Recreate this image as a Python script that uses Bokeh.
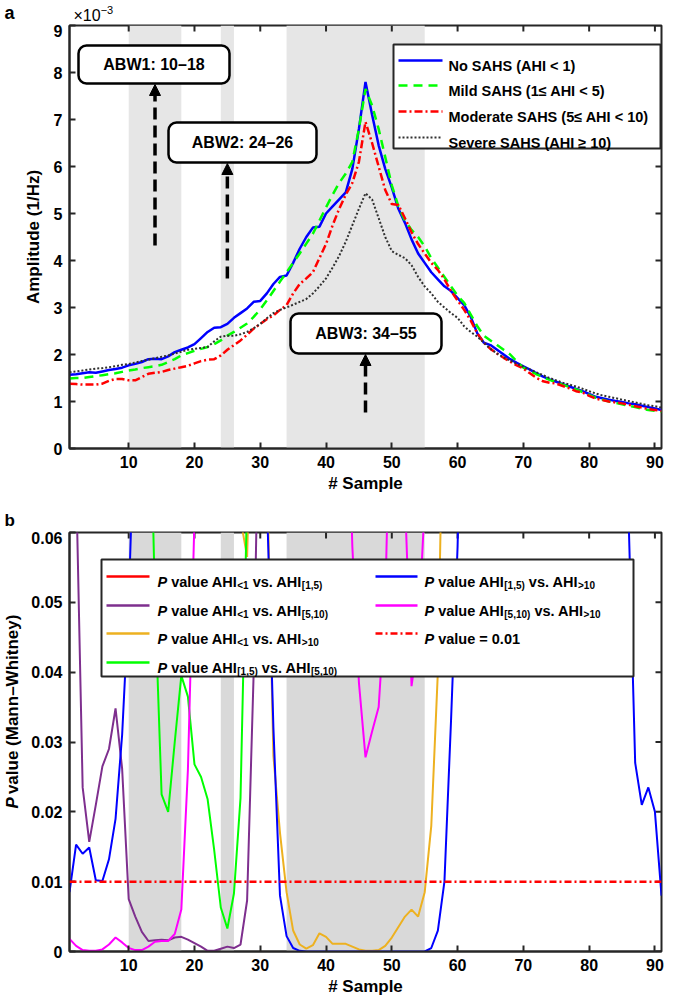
import math
from bokeh.plotting import figure
from bokeh.layouts import column, row
from bokeh.models import Range1d, FixedTicker, Arrow, NormalHead, Span, NumeralTickFormatter
from bokeh.embed import file_html
from bokeh.resources import INLINE
from bokeh.core.properties import value

# ---------------- data ----------------
samples = list(range(1, 92))
x_ticks = [10, 20, 30, 40, 50, 60, 70, 80, 90]
amp_ticks = [0, 1, 2, 3, 4, 5, 6, 7, 8, 9]
p_ticks = [0, 0.01, 0.02, 0.03, 0.04, 0.05, 0.06]

# amplitude (x 1e-3, 1/Hz)
amp_no = [1.57, 1.58, 1.60, 1.62, 1.61, 1.64, 1.67, 1.69, 1.72, 1.77,
          1.80, 1.84, 1.90, 1.91, 1.90, 1.96, 2.05, 2.10, 2.15, 2.22,
          2.35, 2.48, 2.57, 2.58, 2.65, 2.78, 2.88, 2.98, 3.12, 3.14,
          3.30, 3.50, 3.65, 3.68, 3.95, 4.25, 4.50, 4.70, 4.72, 5.00,
          5.15, 5.30, 5.45, 5.95, 6.80, 7.80, 7.10, 6.45, 5.95, 5.55,
          5.10, 4.80, 4.45, 4.15, 3.95, 3.75, 3.60, 3.45, 3.35, 3.20,
          3.05, 2.80, 2.45, 2.25, 2.20, 2.10, 2.00, 1.90, 1.82, 1.75,
          1.68, 1.60, 1.53, 1.47, 1.42, 1.37, 1.32, 1.27, 1.22, 1.16,
          1.10, 1.07, 1.04, 1.01, 0.99, 0.96, 0.94, 0.91, 0.88, 0.85, 0.82]
amp_mild = [1.49, 1.50, 1.50, 1.52, 1.54, 1.56, 1.58, 1.60, 1.63, 1.66,
            1.68, 1.71, 1.73, 1.75, 1.78, 1.84, 1.90, 1.98, 2.03, 2.08,
            2.12, 2.16, 2.22, 2.30, 2.40, 2.48, 2.57, 2.66, 2.80, 2.96,
            3.15, 3.35, 3.55, 3.75, 3.95, 4.15, 4.36, 4.57, 4.85, 5.13,
            5.40, 5.65, 5.85, 6.10, 6.80, 7.65, 7.30, 6.80, 6.20, 5.60,
            5.15, 4.85, 4.65, 4.50, 4.30, 4.05, 3.85, 3.65, 3.45, 3.25,
            3.10, 2.85, 2.60, 2.40, 2.30, 2.20, 2.10, 2.00, 1.85, 1.72,
            1.65, 1.58, 1.52, 1.46, 1.41, 1.36, 1.31, 1.26, 1.20, 1.14,
            1.08, 1.04, 1.00, 0.97, 0.94, 0.91, 0.88, 0.85, 0.82, 0.80, 0.78]
amp_mod = [1.38, 1.37, 1.36, 1.36, 1.36, 1.38, 1.44, 1.48, 1.48, 1.45,
           1.45, 1.52, 1.59, 1.61, 1.63, 1.67, 1.70, 1.73, 1.76, 1.81,
           1.86, 1.89, 1.90, 1.98, 2.10, 2.20, 2.30, 2.42, 2.55, 2.65,
           2.75, 2.83, 2.95, 3.05, 3.30, 3.50, 3.62, 3.75, 4.05, 4.35,
           4.75, 5.10, 5.40, 5.65, 6.10, 6.95, 6.50, 6.00, 5.50, 5.20,
           5.18, 4.90, 4.60, 4.35, 4.15, 3.95, 3.80, 3.60, 3.35, 3.15,
           2.95, 2.72, 2.45, 2.25, 2.12, 2.02, 1.93, 1.85, 1.77, 1.70,
           1.60, 1.50, 1.43, 1.40, 1.38, 1.33, 1.28, 1.22, 1.19, 1.12,
           1.06, 1.03, 1.00, 0.98, 0.96, 0.93, 0.90, 0.87, 0.84, 0.82, 0.80]
amp_sev = [1.62, 1.64, 1.66, 1.68, 1.70, 1.71, 1.73, 1.75, 1.78, 1.80,
           1.83, 1.86, 1.89, 1.92, 1.95, 1.98, 2.02, 2.06, 2.10, 2.12,
           2.14, 2.16, 2.28, 2.38, 2.40, 2.40, 2.43, 2.48, 2.56, 2.65,
           2.77, 2.88, 2.95, 3.00, 3.06, 3.12, 3.18, 3.30, 3.45, 3.62,
           3.85, 4.10, 4.40, 4.75, 5.10, 5.43, 5.30, 4.90, 4.50, 4.20,
           4.12, 4.05, 3.90, 3.65, 3.45, 3.30, 3.12, 3.00, 2.88, 2.78,
           2.60, 2.48, 2.38, 2.25, 2.12, 2.02, 1.94, 1.87, 1.80, 1.74,
           1.68, 1.62, 1.56, 1.50, 1.45, 1.40, 1.36, 1.32, 1.27, 1.22,
           1.17, 1.13, 1.10, 1.07, 1.04, 1.01, 0.98, 0.95, 0.92, 0.90, 0.87]

# Mann-Whitney P values
p_lt1_vs_1_5 = [0.42, 0.45, 0.48, 0.50, 0.47, 0.44, 0.40, 0.36, 0.33, 0.30,
                0.28, 0.27, 0.26, 0.27, 0.29, 0.31, 0.34, 0.37, 0.40, 0.43,
                0.46, 0.49, 0.52, 0.55, 0.58, 0.60, 0.62, 0.63, 0.62, 0.60,
                0.57, 0.54, 0.50, 0.47, 0.44, 0.41, 0.38, 0.36, 0.34, 0.33,
                0.32, 0.31, 0.30, 0.30, 0.31, 0.32, 0.33, 0.35, 0.37, 0.39,
                0.41, 0.43, 0.45, 0.47, 0.49, 0.51, 0.53, 0.55, 0.57, 0.59,
                0.61, 0.63, 0.65, 0.66, 0.67, 0.68, 0.68, 0.67, 0.66, 0.65,
                0.63, 0.61, 0.59, 0.57, 0.55, 0.53, 0.51, 0.49, 0.47, 0.45,
                0.43, 0.41, 0.39, 0.37, 0.35, 0.33, 0.31, 0.29, 0.27, 0.25, 0.23]
p_lt1_vs_5_10 = [0.100, 0.068, 0.0235, 0.0157, 0.0210, 0.0265, 0.0290, 0.0348, 0.0262, 0.0075,
                 0.0050, 0.0028, 0.0015, 0.0016, 0.0017, 0.0016, 0.0020, 0.0021, 0.0017, 0.0012,
                 0.0007, 0.0001, 0.0001, 0.0004, 0.0007, 0.0005, 0.0010, 0.0073, 0.0400, 0.0900,
                 0.15, 0.21, 0.26, 0.30, 0.33, 0.36, 0.38, 0.40, 0.41, 0.42,
                 0.43, 0.44, 0.45, 0.46, 0.46, 0.47, 0.47, 0.48, 0.48, 0.49,
                 0.49, 0.50, 0.50, 0.51, 0.51, 0.52, 0.52, 0.53, 0.53, 0.54,
                 0.54, 0.55, 0.55, 0.56, 0.56, 0.57, 0.57, 0.58, 0.58, 0.59,
                 0.59, 0.60, 0.60, 0.61, 0.61, 0.62, 0.62, 0.63, 0.63, 0.64,
                 0.64, 0.65, 0.65, 0.66, 0.66, 0.67, 0.67, 0.68, 0.68, 0.69, 0.69]
p_lt1_vs_gt10 = [0.55, 0.52, 0.49, 0.46, 0.43, 0.40, 0.37, 0.34, 0.31, 0.29,
                 0.27, 0.25, 0.23, 0.21, 0.20, 0.19, 0.18, 0.17, 0.16, 0.15,
                 0.15, 0.14, 0.14, 0.13, 0.13, 0.120, 0.062, 0.0565, 0.090, 0.110,
                 0.0700, 0.0280, 0.0170, 0.0085, 0.0030, 0.0010, 0.0004, 0.0009, 0.0026, 0.0021,
                 0.0011, 0.0011, 0.0011, 0.0007, 0.0003, 0.0001, 0.0001, 0.0002, 0.0008, 0.0020,
                 0.0035, 0.0050, 0.0060, 0.0050, 0.0085, 0.0180, 0.0400, 0.0900, 0.14, 0.19,
                 0.23, 0.27, 0.30, 0.33, 0.35, 0.37, 0.39, 0.41, 0.43, 0.44,
                 0.45, 0.46, 0.47, 0.48, 0.49, 0.50, 0.51, 0.52, 0.53, 0.54,
                 0.55, 0.56, 0.57, 0.58, 0.59, 0.60, 0.61, 0.62, 0.63, 0.64, 0.65]
p_1_5_vs_5_10 = [0.45, 0.43, 0.41, 0.39, 0.37, 0.35, 0.33, 0.31, 0.28, 0.25,
                 0.21, 0.17, 0.090, 0.0500, 0.0225, 0.0200, 0.0300, 0.0395, 0.0365, 0.0268,
                 0.0250, 0.0218, 0.0145, 0.0063, 0.0033, 0.0083, 0.0220, 0.0650, 0.15, 0.22,
                 0.28, 0.33, 0.37, 0.40, 0.42, 0.44, 0.46, 0.47, 0.48, 0.49,
                 0.50, 0.51, 0.52, 0.53, 0.54, 0.55, 0.56, 0.57, 0.58, 0.59,
                 0.60, 0.61, 0.62, 0.63, 0.64, 0.65, 0.66, 0.67, 0.68, 0.69,
                 0.70, 0.71, 0.72, 0.73, 0.74, 0.75, 0.76, 0.77, 0.78, 0.79,
                 0.80, 0.80, 0.81, 0.81, 0.82, 0.82, 0.83, 0.83, 0.84, 0.84,
                 0.85, 0.85, 0.86, 0.86, 0.87, 0.87, 0.88, 0.88, 0.89, 0.89, 0.90]
p_1_5_vs_gt10 = [0.0085, 0.0153, 0.0140, 0.0149, 0.0102, 0.0101, 0.0132, 0.0190, 0.0310, 0.0500,
                 0.0800, 0.15, 0.22, 0.28, 0.31, 0.33, 0.34, 0.33, 0.31, 0.30,
                 0.29, 0.27, 0.25, 0.23, 0.21, 0.19, 0.17, 0.15, 0.13, 0.100,
                 0.0650, 0.0320, 0.0080, 0.0022, 0.0005, 0.0001, 0.0, 0.0, 0.0, 0.0,
                 0.0, 0.0, 0.0, 0.0, 0.0, 0.0, 0.0, 0.0, 0.0, 0.0,
                 0.0, 0.0, 0.0, 0.0, 0.0, 0.0005, 0.0030, 0.0100, 0.0330, 0.0580,
                 0.100, 0.15, 0.20, 0.25, 0.30, 0.33, 0.35, 0.37, 0.38, 0.39,
                 0.40, 0.40, 0.39, 0.38, 0.36, 0.34, 0.31, 0.28, 0.25, 0.22,
                 0.19, 0.16, 0.13, 0.11, 0.0950, 0.0620, 0.0270, 0.0210, 0.0235, 0.0200, 0.0080]
p_5_10_vs_gt10 = [0.0018, 0.0008, 0.0002, 0.0001, 0.0001, 0.0003, 0.0010, 0.0020, 0.0013, 0.0005,
                  0.0002, 0.0002, 0.0007, 0.0014, 0.0015, 0.0015, 0.0025, 0.0060, 0.0260, 0.0620,
                  0.11, 0.16, 0.20, 0.23, 0.25, 0.26, 0.27, 0.27, 0.26, 0.25,
                  0.24, 0.23, 0.22, 0.21, 0.20, 0.19, 0.18, 0.17, 0.16, 0.15,
                  0.13, 0.11, 0.0900, 0.0580, 0.0385, 0.0278, 0.0315, 0.0350, 0.0500, 0.0900,
                  0.1000, 0.0650, 0.0380, 0.0450, 0.0640, 0.10, 0.14, 0.18, 0.22, 0.25,
                  0.28, 0.30, 0.32, 0.34, 0.36, 0.37, 0.38, 0.39, 0.40, 0.41,
                  0.42, 0.43, 0.44, 0.45, 0.46, 0.47, 0.48, 0.49, 0.50, 0.51,
                  0.52, 0.53, 0.54, 0.55, 0.56, 0.57, 0.58, 0.59, 0.60, 0.61, 0.62]
p_threshold = 0.01

abw_start = [10, 24, 34]
abw_end = [18, 26, 55]
abw_labels = ["ABW1: 10\u201318", "ABW2: 24\u201326", "ABW3: 34\u201355"]
amp_legend = ["No SAHS (AHI < 1)", "Mild SAHS (1\u2264 AHI < 5)",
              "Moderate SAHS (5\u2264 AHI < 10)", "Severe SAHS (AHI \u2265 10)"]
# rich legend labels: (text, kind) with kind P=italic P, n=normal, s=subscript
p_legend = [
    [("P", "P"), (" value AHI", "n"), ("<1", "s"), (" vs. AHI", "n"), ("[1,5)", "s")],
    [("P", "P"), (" value AHI", "n"), ("<1", "s"), (" vs. AHI", "n"), ("[5,10)", "s")],
    [("P", "P"), (" value AHI", "n"), ("<1", "s"), (" vs. AHI", "n"), (">10", "s")],
    [("P", "P"), (" value AHI", "n"), ("[1,5)", "s"), (" vs. AHI", "n"), ("[5,10)", "s")],
    [("P", "P"), (" value AHI", "n"), ("[1,5)", "s"), (" vs. AHI", "n"), (">10", "s")],
    [("P", "P"), (" value AHI", "n"), ("[5,10)", "s"), (" vs. AHI", "n"), (">10", "s")],
    [("P", "P"), (" value = 0.01", "n")],
]
p_ylabel = [("P", "P"), (" value (Mann\u2013Whitney)", "n")]

# ---------------- layout helpers ----------------
FONT = "Liberation Sans"
AX = "#262626"
XS = 592 / 90.0
YA = 423 / 9.0
YB = 419 / 0.06


def gx(px):
    return 1 + (px - 69) / XS


def gya(py):
    return (448 - py) / YA


def gyb(py):
    return (951 - py) / YB


WID = {' ': 278, '!': 333, '#': 556, '(': 333, ')': 333, ',': 278, '-': 333, '.': 278,
       '/': 278, ':': 333, '<': 584, '=': 584, '>': 584, '[': 333, ']': 333,
       '\u2013': 556, '\u2264': 549, '\u2265': 549, '\u00d7': 584, '\u2212': 584,
       'A': 722, 'B': 722, 'H': 722, 'I': 278, 'M': 833, 'P': 667, 'S': 667, 'W': 944,
       'a': 556, 'd': 611, 'e': 556, 'h': 611, 'i': 278, 'l': 278, 'm': 889, 'n': 611,
       'o': 611, 'p': 611, 'r': 389, 's': 556, 't': 333, 'u': 611, 'v': 556, 'y': 556, 'z': 500}
for c in "0123456789":
    WID[c] = 556


def tw(s, size):
    return sum(WID.get(c, 600) for c in s) * size / 1000.0


def put_text(p, x, y, txt, size, style="bold", align="left", baseline="alphabetic", angle=0.0):
    p.text(x=[x], y=[y], text=[txt], text_font=value(FONT), text_font_style=style,
           text_font_size=f"{size}px", text_align=align, text_baseline=baseline,
           angle=angle, text_color="black")


def make_fig(width, height, ymax, yticks, yconv_px, bl, bb):
    p = figure(width=width, height=height, x_range=Range1d(1, 91), y_range=Range1d(0, ymax),
               output_backend="svg", toolbar_location=None, title=None,
               min_border_left=bl, min_border_right=24, min_border_top=1, min_border_bottom=bb)
    p.grid.visible = False
    p.outline_line_color = AX
    p.outline_line_width = 2
    p.border_fill_color = "white"
    p.xaxis.ticker = FixedTicker(ticks=x_ticks)
    p.yaxis.ticker = FixedTicker(ticks=yticks)
    for a in p.axis:
        a.axis_line_color = AX
        a.axis_line_width = 2
        a.major_tick_line_color = AX
        a.major_tick_line_width = 2
        a.major_tick_in = 6
        a.major_tick_out = 0
        a.minor_tick_line_color = None
        a.major_label_text_font = FONT
        a.major_label_text_font_style = "bold"
        a.major_label_text_font_size = "16px"
        a.major_label_text_color = "black"
        a.major_label_standoff = 7
        a.axis_label_text_font = FONT
        a.axis_label_text_font_style = "bold"
        a.axis_label_text_font_size = "17px"
        a.axis_label_text_color = "black"
    # ticks on the top and right edges of the box
    tick_len_y = 6 / yconv_px
    p.segment(x0=x_ticks, y0=[ymax] * len(x_ticks), x1=x_ticks, y1=[ymax - tick_len_y] * len(x_ticks),
              line_color=AX, line_width=2)
    p.segment(x0=[91] * len(yticks), y0=yticks, x1=[91 - 6 / XS] * len(yticks), y1=yticks,
              line_color=AX, line_width=2)
    return p


def strip(width, height):
    s = figure(width=width, height=height, x_range=Range1d(0, width), y_range=Range1d(0, height),
               output_backend="svg", toolbar_location=None, x_axis_type=None, y_axis_type=None,
               title=None, min_border=0, min_border_left=0, min_border_right=0,
               min_border_top=0, min_border_bottom=0)
    s.outline_line_color = None
    s.background_fill_color = "white"
    s.border_fill_color = "white"
    return s


# ---------------- header a ----------------
HEAD_A = 24
ha = strip(685, HEAD_A)
put_text(ha, 4, HEAD_A - 12, "a", 18)
put_text(ha, 73, HEAD_A - 15, "\u00d710", 16, style="normal")
put_text(ha, 73 + tw("\u00d710", 16), HEAD_A - 9, "\u22123", 11, style="normal")

# ---------------- panel a ----------------
pa = make_fig(685, 476, 9, amp_ticks, YA, 69, 52)
pa.xaxis.axis_label = "# Sample"
pa.xaxis.axis_label_standoff = 3
pa.yaxis.axis_label = "Amplitude (1/Hz)"
pa.yaxis.axis_label_standoff = 8
pa.quad(left=abw_start, right=abw_end, bottom=0, top=9, fill_color="#e6e6e6", line_color=None,
        level="underlay")

pa.line(samples, amp_no, line_color="#0000ff", line_width=2.5)
pa.line(samples, amp_mild, line_color="#00ff00", line_width=2.5, line_dash="9 6")
pa.line(samples, amp_mod, line_color="#ff0000", line_width=2.5, line_dash="8 3 2 3")
pa.line(samples, amp_sev, line_color="#303030", line_width=2, line_dash="2 2")

# ABW boxes and arrows
box_px = [(78, 229, 45, 83), (168, 316, 122, 162), (290, 441, 313, 353)]
arrow_x = [14, 25, 46]
arrow_from = [245, 278, 412]
for (l, r, t, b), lab, axx, af in zip(box_px, abw_labels, arrow_x, arrow_from):
    pa.add_layout(Arrow(end=NormalHead(size=11, fill_color="black", line_color="black"),
                        x_start=axx, y_start=gya(af), x_end=axx, y_end=gya(b + 1),
                        line_color="black", line_width=3.5, line_dash="12 6"))
    pa.quad(left=[gx(l)], right=[gx(r)], top=[gya(t)], bottom=[gya(b)], fill_color="white",
            line_color="black", line_width=2.5, border_radius=8)
    put_text(pa, gx((l + r) / 2), gya((t + b) / 2), lab, 16, align="center", baseline="middle")

# legend a
pa.quad(left=[gx(393)], right=[gx(660)], top=[gya(44)], bottom=[gya(148)], fill_color="white",
        line_color=AX, line_width=2)
leg_rows = [60, 85, 111, 137]
leg_style = [("#0000ff", 2.5, "solid"), ("#00ff00", 2.5, "9 6"), ("#ff0000", 2.5, "8 3 2 3"),
             ("#303030", 2, "2 2")]
for ry, lab, (c, w, d) in zip(leg_rows, amp_legend, leg_style):
    pa.line([gx(398), gx(442)], [gya(ry), gya(ry)], line_color=c, line_width=w, line_dash=d)
    put_text(pa, gx(448), gya(ry + 5), lab, 14.5)

# ---------------- header b ----------------
HEAD_B = 31
hb = strip(685, HEAD_B)
put_text(hb, 4, 11, "b", 17)

# ---------------- panel b ----------------
LAB_W = 28
HB = 468
pb = make_fig(685 - LAB_W, HB, 0.06, p_ticks, YB, 69 - LAB_W, 48)
pb.yaxis.formatter = NumeralTickFormatter(format="0.[00]")
pb.xaxis.axis_label = "# Sample"
pb.xaxis.axis_label_standoff = 3
pb.quad(left=abw_start, right=abw_end, bottom=0, top=0.06, fill_color="#d9d9d9", line_color=None,
        level="underlay")

series_b = [(p_lt1_vs_1_5, "#ff0000"), (p_lt1_vs_5_10, "#7e2f8e"), (p_lt1_vs_gt10, "#edb120"),
            (p_1_5_vs_5_10, "#00ff00"), (p_1_5_vs_gt10, "#0000ff"), (p_5_10_vs_gt10, "#ff00ff")]
for ys, c in series_b:
    pb.line(samples, ys, line_color=c, line_width=2)
pb.add_layout(Span(location=p_threshold, dimension="width", line_color="#ff0000",
                   line_width=2.5, line_dash="7 3 2 3"))

# legend b
pb.quad(left=[gx(101)], right=[gx(633)], top=[gyb(559)], bottom=[gyb(676)], fill_color="white",
        line_color=AX, line_width=2)
rows_b = [576, 605, 633, 662]
cols_b = [(106, 149, 157), (375, 417, 424)]
leg_b_styles = [("#ff0000", "solid"), ("#7e2f8e", "solid"), ("#edb120", "solid"), ("#00ff00", "solid"),
                ("#0000ff", "solid"), ("#ff00ff", "solid"), ("#ff0000", "7 3 2 3")]


def rich_pieces(pieces, main, sub):
    """split rich text into pieces; spaces become advances (SVG drops edge spaces)"""
    out = []
    cur = 0.0
    for txt, kind in pieces:
        fs = sub if kind == "s" else main
        st = "bold italic" if kind == "P" else "bold"
        drop = 4 if kind == "s" else 0
        lead = len(txt) - len(txt.lstrip(" "))
        cur += tw(" " * lead, fs)
        core = txt.strip(" ")
        out.append((core, cur, fs, st, drop))
        cur += tw(core, fs)
        trail = len(txt) - len(txt.rstrip(" "))
        cur += tw(" " * trail, fs) if core else 0
    return out, cur


for i, (pieces, (c, d)) in enumerate(zip(p_legend, leg_b_styles)):
    col = 0 if i < 4 else 1
    ry = rows_b[i if i < 4 else i - 4]
    l0, l1, tx = cols_b[col]
    pb.line([gx(l0), gx(l1)], [gyb(ry), gyb(ry)], line_color=c, line_width=2.5, line_dash=d)
    parts, _ = rich_pieces(pieces, 14.5, 10)
    for core, off, fs, st, drop in parts:
        put_text(pb, gx(tx + off), gyb(ry + 5 + drop), core, fs, style=st)

# rotated y label for panel b (italic P)
yl = strip(LAB_W, HB)
parts, total = rich_pieces(p_ylabel, 17, 17)
center_local = 741.5 - (999 - HB)          # page y -> strip y (from top)
bottom_from_top = center_local + total / 2
for core, off, fs, st, drop in parts:
    put_text(yl, 12, HB - (bottom_from_top - off), core, fs, style=st, baseline="middle",
             angle=math.pi / 2)

layout = column(row(ha), pa, row(hb), row(yl, pb, spacing=0), spacing=0)
open("out.html", "w").write(file_html(layout, INLINE))
